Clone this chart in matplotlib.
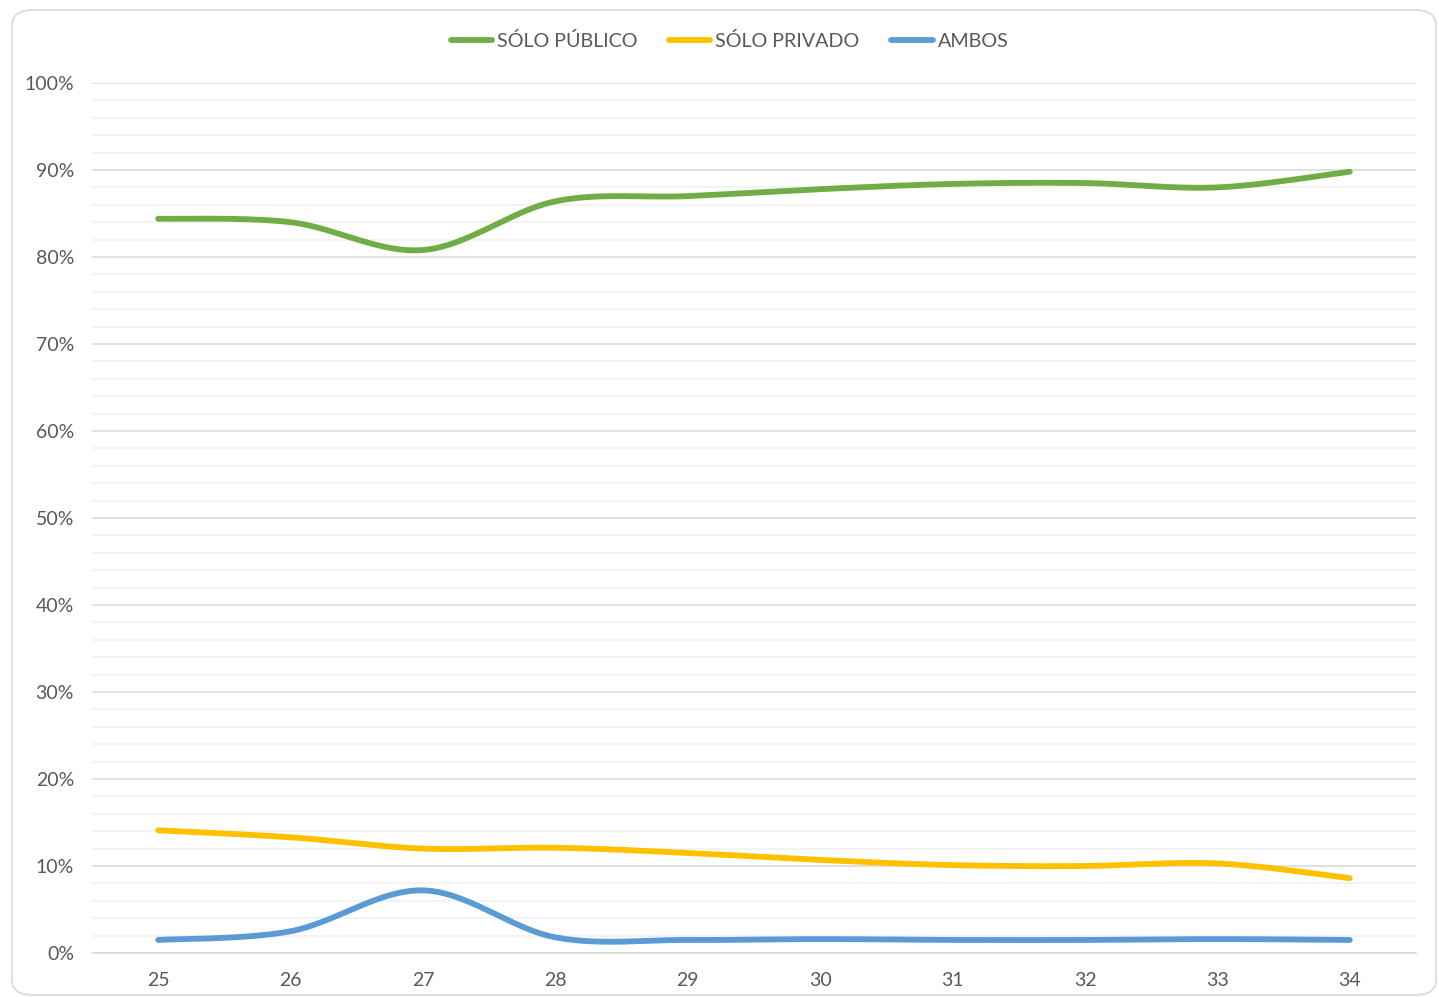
import numpy as np
import matplotlib.pyplot as plt
from matplotlib.patches import FancyBboxPatch

plt.rcParams['font.family'] = ['Lato', 'DejaVu Sans']

edades = [25, 26, 27, 28, 29, 30, 31, 32, 33, 34]
solo_publico = [84.4, 84.0, 80.8, 86.4, 87.0, 87.8, 88.4, 88.5, 88.0, 89.8]
solo_privado = [14.1, 13.3, 12.0, 12.1, 11.5, 10.7, 10.1, 10.0, 10.3, 8.6]
ambos = [1.5, 2.5, 7.2, 1.8, 1.5, 1.6, 1.5, 1.5, 1.6, 1.5]

series = [("SÓLO PÚBLICO", solo_publico, "#70ad47"),
          ("SÓLO PRIVADO", solo_privado, "#ffc000"),
          ("AMBOS", ambos, "#5b9bd5")]

text_col = "#595959"


def smooth(x, y, n=30):
    # excel-like smoothed line: cubic bezier with catmull-rom tangents
    x = np.asarray(x, float)
    y = np.asarray(y, float)
    px = np.concatenate([[x[0]], x, [x[-1]]])
    py = np.concatenate([[y[0]], y, [y[-1]]])
    t = np.linspace(0, 1, n)[:, None]
    xs, ys = [], []
    for i in range(1, len(px) - 2):
        p0 = np.array([px[i], py[i]])
        p3 = np.array([px[i + 1], py[i + 1]])
        c1 = p0 + (np.array([px[i + 1], py[i + 1]]) - np.array([px[i - 1], py[i - 1]])) / 6
        c2 = p3 - (np.array([px[i + 2], py[i + 2]]) - p0) / 6
        b = (1 - t) ** 3 * p0 + 3 * (1 - t) ** 2 * t * c1 + 3 * (1 - t) * t ** 2 * c2 + t ** 3 * p3
        xs.append(b[:, 0])
        ys.append(b[:, 1])
    return np.concatenate(xs), np.concatenate(ys)


fig = plt.figure(figsize=(14.39, 9.97), dpi=100)
ax = fig.add_axes([92 / 1439, 1 - 953 / 997, (1416 - 92) / 1439, (953 - 83) / 997])

border = FancyBboxPatch((12 / 1439, 2 / 997), 1424 / 1439, 985 / 997,
                        boxstyle="round,pad=0,rounding_size=0.015",
                        transform=fig.transFigure, facecolor="white",
                        edgecolor="#d9d9d9", linewidth=1.2, zorder=-10)
fig.patches.append(border)

for name, vals, col in series:
    xs, ys = smooth(edades, vals)
    ax.plot(xs, ys, color=col, linewidth=4.2, solid_capstyle="round", label=name, zorder=3)

ax.set_xlim(24.5, 34.5)
ax.set_ylim(0, 100)
ax.set_xticks(edades)
ax.set_yticks(np.arange(0, 101, 10))
ax.set_yticks(np.arange(0, 101, 2), minor=True)
ax.set_yticklabels([f"{v}%" for v in range(0, 101, 10)])
ax.grid(axis="y", which="major", color="#d9d9d9", linewidth=1.1)
ax.grid(axis="y", which="minor", color="#f0f0f0", linewidth=1.1)
ax.set_axisbelow(True)
for s in ["top", "right", "left"]:
    ax.spines[s].set_visible(False)
ax.spines["bottom"].set_color("#d9d9d9")
ax.spines["bottom"].set_linewidth(1.1)
ax.tick_params(axis="both", which="both", length=0, labelsize=14, colors=text_col)
ax.tick_params(axis="y", pad=13)
ax.tick_params(axis="x", pad=14)
ax.patch.set_alpha(0)

leg = fig.legend(loc="center", bbox_to_anchor=(0.5 + 10 / 1439, 1 - 41 / 997), ncol=3,
                 frameon=False, fontsize=14.2, handlelength=2.1, handletextpad=0.25,
                 columnspacing=1.6)
for t in leg.get_texts():
    t.set_color(text_col)

fig.savefig("out.png", dpi=100)
